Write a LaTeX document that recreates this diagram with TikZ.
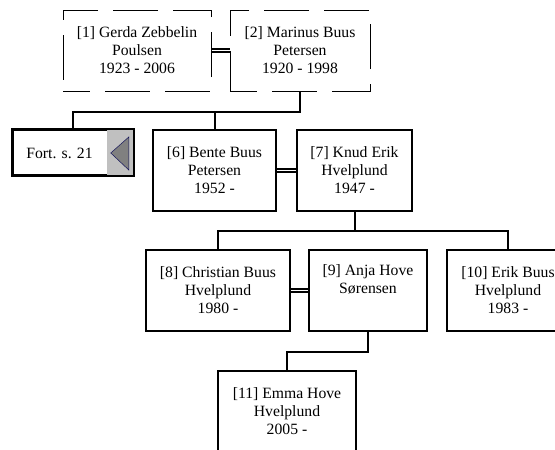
\documentclass[tikz,border=0pt]{standalone}
\usepackage{fontspec}
\setmainfont{Liberation Serif}
\usetikzlibrary{calc}
\tikzset{
	pbox/.style = {draw, line width = 1.6pt, align = center, inner sep = 0, minimum height = 81pt, font = \fontsize{15.7}{18}\selectfont},
	pdash/.style = {pbox, line width = 1pt, dash pattern = on 45pt off 15pt, dash phase = 18pt},
	conn/.style = {line width = 2pt},
	wed/.style = {double, line width = 1.2pt, double distance = 1.8pt}
}
\begin{document}
\begin{tikzpicture}[x = 1pt, y = -1pt]
\useasboundingbox (0, 0) rectangle (555, 450);
	% parents, unknown status
	\node [pdash, minimum width = 148pt] (b1) at (137, 50.5) {[1] Gerda Zebbelin\\Poulsen\\1923 - 2006};
	\node [pdash, minimum width = 140pt] (b2) at (300, 50.5) {[2] Marinus Buus\\Petersen\\1920 - 1998};
	% everyone else
	\foreach \nm/\x/\y/\w/\txt in {b6/214.5/170.5/123/{[6] Bente Buus\\Petersen\\1952 -},
		b7/354.5/170.5/115/{[7] Knud Erik\\Hvelplund\\1947 -},
		b8/218/290.5/144/{[8] Christian Buus\\Hvelplund\\1980 -},
		b9/368/290.5/118/{[9] Anja Hove\\Sørensen\\\strut},
		b10/508/290.5/122/{[10] Erik Buus\\Hvelplund\\1983 -},
		b11/287/411.5/138/{[11] Emma Hove\\Hvelplund\\2005 -}}{
		\node [pbox, fill = white, minimum width = \w pt] (\nm) at (\x, \y) {\txt};
	};
	% continued on page 21
	\node [draw, line width = 1.6pt, minimum width = 120pt, minimum height = 45pt, inner sep = 0] (fort) at (73, 152.5) {};
	\fill [fill = {rgb,255:red,192;green,192;blue,192}] ($(fort.north east) + (-27, 0)$) rectangle (fort.south east);
	\draw [line width = 1.6pt] (fort.north west) rectangle (fort.south east);
	\draw [line width = .5pt, draw = {rgb,255:red,20;green,20;blue,90}, fill = {rgb,255:red,128;green,128;blue,128}]
		($(fort.east) + (-23, .5)$) -- ($(fort.east) + (-5, -15.5)$) -- ($(fort.east) + (-5, 17.5)$) -- cycle;
	\node [font = \fontsize{15.7}{18}\selectfont] (flbl) at (59.5, 153) {Fort. s. 21};
	% marriages
	\draw [wed] (b1.east) -- (b2.west);
	\draw [wed] (b6.east) -- (b7.west);
	\draw [wed] (b8.east) -- (b9.west);
	% children
	\coordinate (j1) at (0, 112);
	\coordinate (j2) at (0, 231);
	\coordinate (j3) at (0, 352);
	\draw [conn] (b2.south) -- (b2.south |- j1) -| (fort.north);
	\draw [conn] (b6.north) -- (b6.north |- j1);
	\draw [conn] (b7.south) -- (b7.south |- j2);
	\draw [conn] (b8.north) |- (b10.north |- j2) -- (b10.north);
	\draw [conn] (b9.south) |- (b11.north |- j3) -- (b11.north);
\end{tikzpicture}
\end{document}
